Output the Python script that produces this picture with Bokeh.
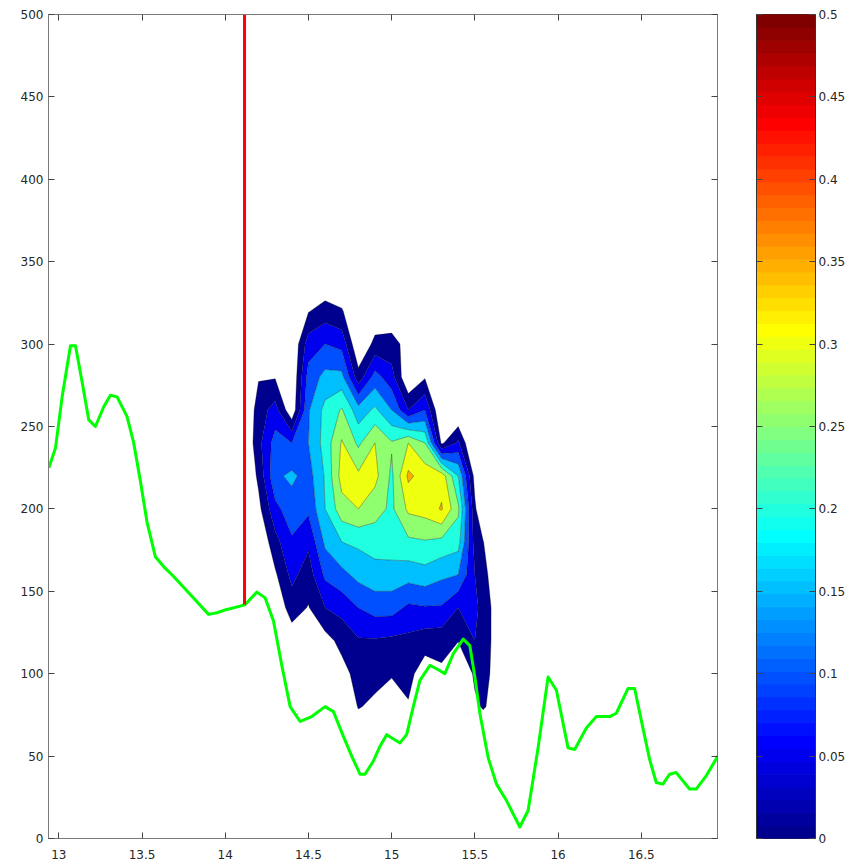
import numpy as np
from bokeh.plotting import figure
from bokeh.layouts import row
from bokeh.models import FixedTicker, LinearAxis, Range1d
from bokeh.embed import file_html
from bokeh.resources import INLINE

# ---------------- data ----------------
green_x = [12.94, 12.98, 13.02, 13.07, 13.10, 13.14, 13.18, 13.22, 13.27, 13.31,
           13.35, 13.41, 13.45, 13.49, 13.53, 13.58, 13.63, 13.69, 13.79, 13.90,
           13.95, 14.01, 14.09, 14.12, 14.19, 14.24, 14.29, 14.34, 14.39, 14.45,
           14.52, 14.60, 14.65, 14.71, 14.76, 14.81, 14.84, 14.89, 14.93, 14.97,
           15.05, 15.09, 15.13, 15.17, 15.23, 15.27, 15.32, 15.37, 15.43, 15.47,
           15.50, 15.53, 15.58, 15.63, 15.69, 15.77, 15.82, 15.88, 15.94, 15.99,
           16.03, 16.06, 16.10, 16.17, 16.23, 16.31, 16.35, 16.42, 16.46, 16.51,
           16.55, 16.59, 16.63, 16.67, 16.71, 16.79, 16.83, 16.89, 16.96]
green_y = [225, 237, 268, 299, 299, 277, 254, 250, 262, 269,
           268, 256, 240, 217, 192, 171, 165, 159, 148, 136,
           137, 139, 141, 142, 149.5, 146, 132, 105, 80, 71,
           74, 80, 77, 62, 50, 39, 39, 47, 56, 63,
           58, 63, 80, 96, 105, 103, 100, 112, 121, 117,
           98, 76, 49, 33, 23, 7, 17, 55, 98, 90,
           70, 55, 54, 67, 74, 74, 76, 91, 91, 67,
           48, 34, 33, 39, 40, 30, 30, 38, 50]

red_x = [14.116, 14.116]
red_y = [142, 500]

grid_x = [14.1, 14.2, 14.3, 14.4, 14.5, 14.6, 14.7, 14.8, 14.9, 15.0,
          15.1, 15.2, 15.3, 15.4, 15.5, 15.55, 15.6, 15.7]
grid_y = [60, 80, 100, 120, 140, 160, 180, 200, 220, 240, 260, 280, 300, 320, 340]
# rows follow grid_y (bottom to top), columns follow grid_x
density = [
    [-0.07, -0.05, -0.05, -0.05, -0.05, -0.05, -0.05, -0.04, -0.05, -0.05, -0.05, -0.05, -0.05, -0.05, -0.05, -0.05, -0.05, -0.1],
    [-0.07, -0.05, -0.05, -0.05, -0.05, -0.05, -0.05, 0.003, -0.01, -0.02, -0.005, -0.05, -0.05, -0.05, -0.01, 0.005, -0.01, -0.1],
    [-0.07, -0.05, -0.05, -0.05, -0.05, -0.05, -0.02, 0.02, 0.015, 0.003, 0.017, -0.03, -0.01, -0.06, 0.01, 0.02, -0.005, -0.1],
    [-0.07, -0.05, -0.05, -0.03, -0.04, -0.02, 0.016, 0.045, 0.045, 0.04, 0.037, 0.024, 0.02, 0.002, 0.05, 0.03, -0.002, -0.1],
    [-0.07, -0.05, -0.04, 0.024, -0.003, 0.05, 0.067, 0.1, 0.12, 0.12, 0.09, 0.096, 0.095, 0.05, 0.06, 0.035, -0.002, -0.1],
    [-0.07, -0.05, -0.008, 0.064, 0.025, 0.11, 0.135, 0.165, 0.18, 0.18, 0.17, 0.18, 0.16, 0.15, 0.05, 0.025, -0.02, -0.1],
    [-0.07, -0.05, 0.033, 0.093, 0.06, 0.16, 0.2, 0.21, 0.222, 0.225, 0.24, 0.246, 0.236, 0.22, 0.03, 0.002, -0.04, -0.1],
    [-0.07, -0.015, 0.085, 0.128, 0.11, 0.2, 0.28, 0.30, 0.27, 0.24, 0.31, 0.32, 0.355, 0.26, 0.01, -0.06, -0.08, -0.1],
    [-0.07, 0.011, 0.14, 0.16, 0.13, 0.205, 0.32, 0.31, 0.315, 0.24, 0.36, 0.33, 0.33, 0.2, -0.02, -0.1, -0.12, -0.1],
    [-0.07, 0.035, 0.12, 0.1, 0.15, 0.22, 0.305, 0.24, 0.30, 0.255, 0.30, 0.25, -0.01, 0.06, -0.08, -0.1, -0.12, -0.1],
    [-0.07, 0.025, 0.07, -0.04, 0.145, 0.215, 0.255, 0.17, 0.21, 0.15, 0.05, 0.1, -0.06, -0.06, -0.08, -0.1, -0.1, -0.1],
    [-0.07, -0.004, -0.004, -0.05, 0.12, 0.165, 0.165, 0.02, 0.12, 0.07, -0.05, -0.005, -0.06, -0.06, -0.08, -0.1, -0.1, -0.1],
    [-0.07, -0.05, -0.05, -0.05, 0.075, 0.1, 0.085, -0.05, 0.015, 0.02, -0.02, -0.05, -0.06, -0.06, -0.08, -0.1, -0.1, -0.1],
    [-0.07, -0.05, -0.05, -0.05, -0.003, 0.023, 0.005, -0.05, -0.04, -0.04, -0.05, -0.05, -0.06, -0.06, -0.08, -0.1, -0.1, -0.1],
    [-0.07, -0.05, -0.05, -0.05, -0.05, -0.05, -0.05, -0.05, -0.05, -0.05, -0.05, -0.05, -0.06, -0.06, -0.08, -0.1, -0.1, -0.1],
]

levels = [0.0, 0.05, 0.1, 0.15, 0.2, 0.25, 0.3, 0.35, 0.4, 0.45, 0.5]
x_ticks = [13, 13.5, 14, 14.5, 15, 15.5, 16, 16.5]
x_tick_labels = ["13", "13.5", "14", "14.5", "15", "15.5", "16", "16.5"]
y_ticks = [0, 50, 100, 150, 200, 250, 300, 350, 400, 450, 500]
y_tick_labels = ["0", "50", "100", "150", "200", "250", "300", "350", "400", "450", "500"]
cbar_ticks = [0, 0.05, 0.1, 0.15, 0.2, 0.25, 0.3, 0.35, 0.4, 0.45, 0.5]
cbar_tick_labels = ["0", "0.05", "0.1", "0.15", "0.2", "0.25", "0.3", "0.35", "0.4", "0.45", "0.5"]
c_low, c_high = 0.0, 0.5


# ---------------- colour map (MATLAB-style jet, 64 entries) ----------------
def jet(m=64):
    n = int(np.ceil(m / 4))
    u = np.concatenate([np.arange(1, n + 1) / n, np.ones(n - 1), np.arange(n, 0, -1) / n])
    g = int(np.ceil(n / 2)) - (1 if m % 4 == 1 else 0) + np.arange(1, len(u) + 1)
    r = g + n
    b = g - n
    J = np.zeros((m, 3))
    J[r[r <= m] - 1, 0] = u[r <= m]
    J[g[g <= m] - 1, 1] = u[g <= m]
    J[b[b >= 1] - 1, 2] = u[b >= 1]
    return ["#%02x%02x%02x" % tuple(int(round(c * 255)) for c in rgb) for rgb in J]


jet64 = jet(64)
band_colors = [jet64[min(int((lv - c_low) / (c_high - c_low) * 64 + 1e-9), 63)] for lv in levels[:-1]]

FONT = "DejaVu Sans"
FSIZE = "12px"
TXT = "#262626"
FRAME = "#7a7a7a"


def style_axis(ax, ticks, labels=None, standoff=5):
    ax.ticker = FixedTicker(ticks=ticks)
    ax.major_tick_in = 6
    ax.major_tick_out = 0
    ax.minor_tick_in = 0
    ax.minor_tick_out = 0
    ax.axis_line_color = FRAME
    ax.major_tick_line_color = "#444444"
    ax.major_label_standoff = standoff
    if labels is None:
        # tick marks only: labels are not drawn at all
        ax.major_label_text_color = None
        ax.major_label_text_font_size = "1px"
        ax.major_label_standoff = 0
    else:
        ax.major_label_overrides = {t: s for t, s in zip(ticks, labels)}
        ax.major_label_text_font = FONT
        ax.major_label_text_font_size = FSIZE
        ax.major_label_text_color = TXT


# ---------------- main plot ----------------
p = figure(width=756, height=865,
           x_range=Range1d(12.938, 16.958), y_range=Range1d(0, 500),
           output_backend="svg", toolbar_location=None,
           min_border_left=48, min_border_right=39,
           min_border_top=14, min_border_bottom=27)
p.grid.visible = False
p.outline_line_color = FRAME
p.background_fill_color = "white"
p.border_fill_color = "white"

style_axis(p.xaxis[0], x_ticks, x_tick_labels, standoff=11)
style_axis(p.yaxis[0], y_ticks, y_tick_labels, standoff=5)
top_ax = LinearAxis()
style_axis(top_ax, x_ticks)
p.add_layout(top_ax, "above")
right_ax = LinearAxis()
style_axis(right_ax, y_ticks)
p.add_layout(right_ax, "right")

p.contour(x=np.array(grid_x), y=np.array(grid_y), z=np.array(density), levels=levels,
          fill_color=band_colors, line_color="black", line_width=0.6, line_alpha=0.55)

p.line(green_x, green_y, line_color="#00ff00", line_width=3, line_join="round")
p.line(red_x, red_y, line_color="#ff0000", line_width=3)

# ---------------- colour bar ----------------
step = (c_high - c_low) / len(jet64)
cb_bottom = [c_low + i * step for i in range(len(jet64))]
cb_top = [c_low + (i + 1) * step for i in range(len(jet64))]

pc = figure(width=92, height=865,
            x_range=Range1d(0, 1), y_range=Range1d(c_low, c_high),
            output_backend="svg", toolbar_location=None,
            x_axis_location=None, y_axis_location="right",
            min_border_left=0, min_border_right=33,
            min_border_top=14, min_border_bottom=27)
pc.grid.visible = False
pc.outline_line_color = "#333333"
pc.quad(left=0, right=1, bottom=cb_bottom, top=cb_top,
        fill_color=jet64, line_color=jet64, line_width=1)
style_axis(pc.yaxis[0], cbar_ticks, cbar_tick_labels, standoff=3)
pc.yaxis[0].axis_line_color = "#333333"
left_cb = LinearAxis()
style_axis(left_cb, cbar_ticks)
left_cb.axis_line_color = "#333333"
pc.add_layout(left_cb, "left")

layout = row(p, pc)
open("out.html", "w").write(file_html(layout, INLINE))
